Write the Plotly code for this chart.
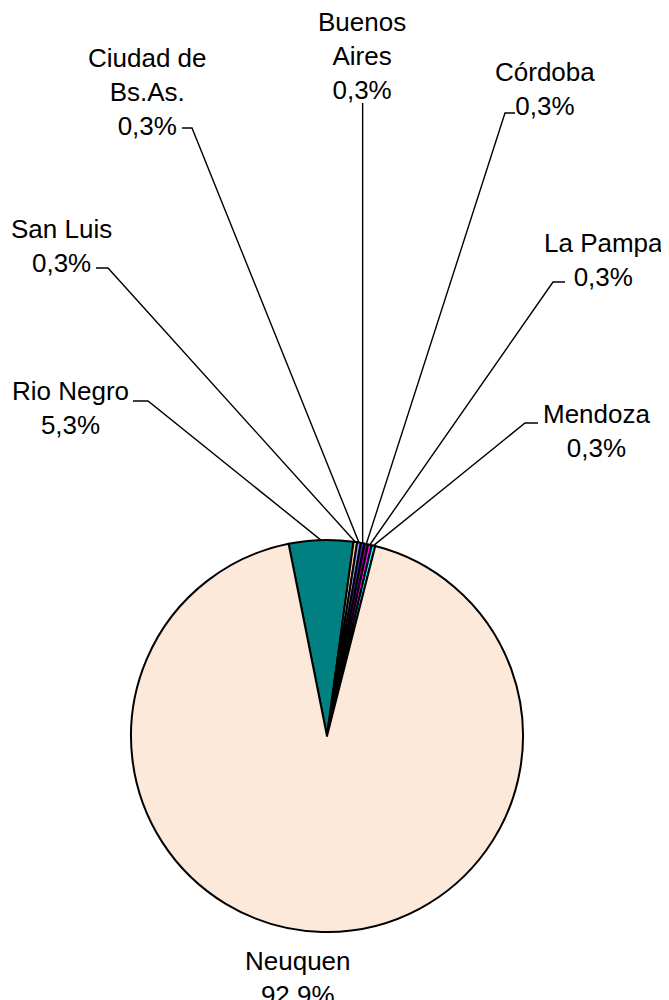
import numpy as np
import plotly.graph_objects as go

# data (percent of total)
provinces = ['Rio Negro', 'San Luis', 'Ciudad de<br>Bs.As.', 'Buenos<br>Aires',
             'Córdoba', 'La Pampa', 'Mendoza', 'Neuquen']
shares = [5.3, 0.3, 0.3, 0.3, 0.3, 0.3, 0.3, 92.9]
slice_colors = ['#008080', '#FFCC99', '#9999FF', '#333399',
                '#800080', '#FF00FF', '#00FFFF', '#FDE9DA']

# window size and page body margin (the figure sits 8px in from the corner)
WIN_W, WIN_H, PAD = 669, 1000, 8
W, H = WIN_W - PAD, WIN_H - PAD

# pie geometry in window pixels
cx, cy, r = 327, 736, 196
start_angle = -11.3

# label placement: text centre, elbow of leader, end of short horizontal tick
label_pos = {
    'Rio Negro': ((70, 408), (148, 401), 133),
    'San Luis': ((61, 246), (108, 268), 96),
    'Ciudad de<br>Bs.As.': ((147, 92), (192, 128), 182),
    'Buenos<br>Aires': ((362, 56), None, None),
    'Córdoba': ((545, 89), (505, 113), 515),
    'La Pampa': ((603, 260), (553, 282), 565),
    'Mendoza': ((596, 431), (525, 423), 538),
    'Neuquen': ((298, 978), None, None),
}

font = dict(family='Liberation Sans, Arial, sans-serif', size=26, color='black')

fig = go.Figure()
fig.add_trace(go.Pie(
    labels=provinces,
    values=shares,
    sort=False,
    direction='clockwise',
    rotation=start_angle,
    textinfo='none',
    hoverinfo='label+percent',
    marker=dict(colors=slice_colors, line=dict(color='black', width=2)),
    domain=dict(x=[(cx - r - PAD) / W, (cx + r - PAD) / W],
                y=[1 - (cy + r - PAD) / H, 1 - (cy - r - PAD) / H]),
    showlegend=False,
))

total = sum(shares)
cum = np.cumsum([0] + shares[:-1])
annotations = []
for name, v, c in zip(provinces, shares, cum):
    mid = np.deg2rad(start_angle + 360 * (c + v / 2) / total)
    ax_, ay_ = cx + r * np.sin(mid), cy - r * np.cos(mid)
    (tx, ty), elbow, tail = label_pos[name]
    pct = f'{v:.1f}'.replace('.', ',') + '%'
    annotations.append(dict(x=tx, y=ty, xref='x', yref='y', text=f'{name}<br>{pct}',
                            showarrow=False, xanchor='center', yanchor='middle',
                            align='center', font=font))
    if name == 'Neuquen':
        continue
    if elbow is None:
        xs, ys = [ax_, ax_], [103, ay_]
    else:
        xs, ys = [tail, elbow[0], ax_], [elbow[1], elbow[1], ay_]
    fig.add_trace(go.Scatter(x=xs, y=ys, mode='lines', line=dict(color='black', width=1.4),
                             hoverinfo='skip', showlegend=False))

fig.update_layout(
    width=W, height=H,
    margin=dict(l=0, r=0, t=0, b=0),
    paper_bgcolor='white', plot_bgcolor='rgba(0,0,0,0)',
    xaxis=dict(range=[PAD, WIN_W], visible=False, fixedrange=True),
    yaxis=dict(range=[WIN_H, PAD], visible=False, fixedrange=True),
    annotations=annotations,
    font=font,
)

fig.write_html("out.html")
